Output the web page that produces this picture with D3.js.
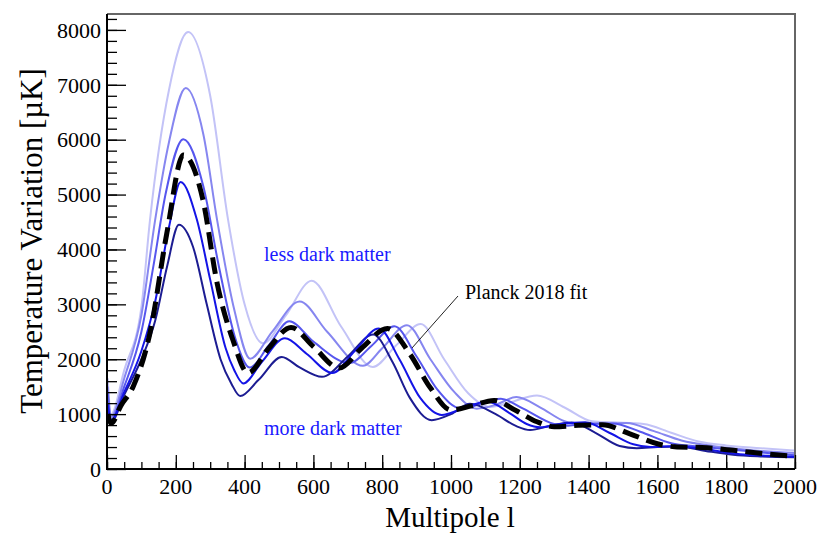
<!DOCTYPE html>
<html>
<head>
<meta charset="utf-8">
<script src="https://d3js.org/d3.v7.min.js"></script>
<style>
  body { margin: 0; background: #fff; }
  svg text { font-family: "Liberation Serif", "Times New Roman", serif; }
</style>
</head>
<body>
<div id="chart"></div>
<script>
// multipole l / temperature variation (uK) pairs
const darkest = [[2,1100],[12,860],[50,1350],[100,2000],[140,2700],[175,3700],[209,4450],[250,4050],[290,3000],[330,2000],[362,1550],[387,1330],[440,1620],[508,2040],[560,1850],[625,1680],[700,2050],[774,2450],[830,1950],[880,1300],[944,890],[1000,1000],[1055,1190],[1130,1000],[1190,780],[1230,710],[1290,790],[1350,845],[1420,660],[1490,420],[1540,380],[1600,400],[1660,410],[1740,330],[1820,260],[1900,230],[2000,215]];
const blue = [[2,1200],[12,880],[50,1400],[100,2150],[140,3050],[180,4400],[214,5230],[261,4550],[300,3450],[345,2200],[370,1800],[396,1560],[450,1950],[517,2380],[580,2100],[655,1750],[720,2150],[790,2560],[850,2000],[910,1300],[973,985],[1030,1090],[1105,1230],[1170,1020],[1220,820],[1260,760],[1320,820],[1390,850],[1460,660],[1530,450],[1580,400],[1650,420],[1740,360],[1840,270],[1920,240],[2000,220]];
const planck = [[2,1000],[12,830],[40,1150],[76,1500],[125,2480],[174,4300],[222,5720],[279,4900],[320,3390],[366,2350],[410,1750],[470,2200],[535,2580],[600,2230],[675,1840],[740,2200],[815,2560],[880,2100],[940,1480],[1000,1075],[1060,1150],[1125,1250],[1190,1060],[1250,860],[1300,770],[1370,795],[1440,805],[1520,640],[1600,460],[1650,405],[1730,390],[1820,340],[1910,280],[2000,230]];
const medium = [[2,1400],[12,900],[50,1500],[100,2500],[135,3700],[170,5000],[222,6010],[280,5150],[325,3700],[372,2400],[415,1850],[470,2250],[530,2690],[600,2320],[705,1930],[770,2250],[835,2600],[900,2050],[960,1450],[1030,1100],[1145,1280],[1210,1100],[1300,820],[1340,790],[1400,830],[1470,830],[1550,680],[1640,470],[1720,410],[1820,350],[1920,290],[2000,250]];
const light = [[2,1500],[12,950],[50,1650],[100,2800],[140,4540],[180,5950],[229,6940],[280,6100],[320,4540],[370,2900],[416,2010],[480,2500],[560,3050],[640,2500],[744,1880],[800,2200],[872,2620],[940,2000],[1010,1400],[1075,1100],[1130,1170],[1190,1310],[1260,1120],[1330,870],[1380,810],[1440,820],[1510,840],[1590,690],[1670,520],[1760,420],[1860,350],[2000,290]];
const lightest = [[2,1650],[12,1000],[50,1800],[100,2950],[125,4540],[180,6900],[236,7960],[300,6800],[352,4540],[400,3000],[453,2290],[520,2800],[595,3430],[680,2600],[773,1860],[840,2250],[912,2640],[980,2000],[1050,1380],[1113,1130],[1170,1210],[1250,1340],[1330,1120],[1410,870],[1470,850],[1560,820],[1640,660],[1720,500],[1800,430],[1900,380],[2000,335]];

const xTicks = [0,200,400,600,800,1000,1200,1400,1600,1800,2000];
const yTicks = [0,1000,2000,3000,4000,5000,6000,7000,8000];

const series = [
  { data: lightest, color: "#c3c3f7" },
  { data: light, color: "#8686f0" },
  { data: medium, color: "#5656ee" },
  { data: darkest, color: "#1c1c92" },
  { data: blue, color: "#1414e6" }
];

const W = 823, H = 534;
const margin = { top: 14, right: 28, bottom: 65, left: 107 };
const width = W - margin.left - margin.right,
      height = H - margin.top - margin.bottom;

const svg = d3.select("#chart").append("svg")
  .attr("width", W).attr("height", H);
const g = svg.append("g")
  .attr("transform", `translate(${margin.left},${margin.top})`);

const x = d3.scaleLinear().domain([0, 2000]).range([0, width]);
const y = d3.scaleLinear().domain([0, 8290]).range([height, 0]);

svg.append("clipPath").attr("id", "clip")
  .append("rect").attr("width", width).attr("height", height);

const line = d3.line()
  .x(d => x(d[0])).y(d => y(d[1]))
  .curve(d3.curveMonotoneX);

const plot = g.append("g").attr("clip-path", "url(#clip)");
series.forEach(s => {
  plot.append("path")
    .attr("d", line(s.data))
    .attr("fill", "none")
    .attr("stroke", s.color)
    .attr("stroke-width", 2);
});
plot.append("path")
  .attr("d", line(planck))
  .attr("fill", "none")
  .attr("stroke", "#000")
  .attr("stroke-width", 5)
  .attr("stroke-dasharray", "17,8");

// frame: top and right borders
g.append("path")
  .attr("d", `M0,0H${width}V${height}`)
  .attr("fill", "none")
  .attr("stroke", "#666")
  .attr("stroke-width", 2);

// inward ticks, ROOT style (minor + major in separate groups)
const xMinor = g.append("g").attr("transform", `translate(0,${height})`)
  .call(d3.axisTop(x).tickValues(d3.range(0, 2001, 50)).tickSize(7).tickFormat(""));
const xMajor = g.append("g").attr("transform", `translate(0,${height})`)
  .call(d3.axisTop(x).tickValues(xTicks).tickSize(14).tickFormat(""));
const yMinor = g.append("g")
  .call(d3.axisRight(y).tickValues(d3.range(0, 8201, 200)).tickSize(10).tickFormat(""));
const yMajor = g.append("g")
  .call(d3.axisRight(y).tickValues(yTicks).tickSize(19).tickFormat(""));
[xMinor, xMajor, yMinor, yMajor].forEach(a => {
  a.select(".domain").remove();
  a.selectAll("line").attr("stroke", "#000").attr("stroke-width", 1.3);
});

g.append("g").selectAll("text").data(xTicks).enter().append("text")
  .attr("x", d => x(d)).attr("y", height + 25)
  .attr("text-anchor", "middle")
  .attr("font-size", 22).attr("fill", "#000")
  .text(d => d);
g.append("g").selectAll("text").data(yTicks).enter().append("text")
  .attr("x", -6).attr("y", d => y(d))
  .attr("dy", "0.35em")
  .attr("text-anchor", "end")
  .attr("font-size", 22).attr("fill", "#000")
  .text(d => d);

// axis lines
g.append("path")
  .attr("d", `M0,0V${height}H${width}`)
  .attr("fill", "none")
  .attr("stroke", "#000")
  .attr("stroke-width", 2);

// titles
svg.append("text")
  .attr("x", 450).attr("y", 527)
  .attr("text-anchor", "middle")
  .attr("font-size", 29)
  .text("Multipole l");
svg.append("text")
  .attr("transform", "translate(42,241) rotate(-90)")
  .attr("text-anchor", "middle")
  .attr("font-size", 31)
  .text("Temperature Variation [\u00b5K]");

// annotations
svg.append("text")
  .attr("x", 264).attr("y", 261)
  .attr("font-size", 20).attr("fill", "#1a1aff")
  .text("less dark matter");
svg.append("text")
  .attr("x", 264).attr("y", 435)
  .attr("font-size", 20).attr("fill", "#1a1aff")
  .text("more dark matter");
svg.append("text")
  .attr("x", 465).attr("y", 299)
  .attr("font-size", 20).attr("fill", "#000")
  .text("Planck 2018 fit");
svg.append("line")
  .attr("x1", 458).attr("y1", 296)
  .attr("x2", 412).attr("y2", 348)
  .attr("stroke", "#222").attr("stroke-width", 1);
</script>
</body>
</html>
